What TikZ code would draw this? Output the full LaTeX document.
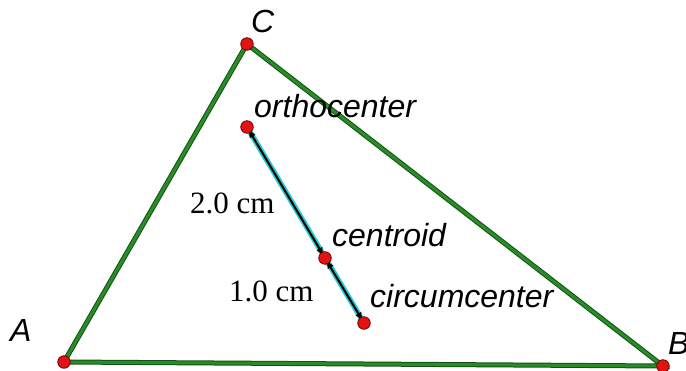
\documentclass[tikz,border=0pt]{standalone}
\usepackage{fontspec}
\setmainfont{Liberation Sans}
\newfontfamily\serifa{Liberation Serif}
\usetikzlibrary{arrows.meta}
\definecolor{edgegreen}{RGB}{40,140,40}
\definecolor{darkgreen}{RGB}{20,80,20}
\definecolor{ptred}{RGB}{225,20,20}
\definecolor{ptdark}{RGB}{120,0,0}
\definecolor{segcyan}{RGB}{40,200,210}
\tikzset{
  lab/.style={anchor=base west, inner sep=0pt, font=\fontsize{32}{38}\selectfont\itshape},
  dimlab/.style={anchor=base west, inner sep=0pt, font=\fontsize{31}{37}\selectfont\serifa},
  pt/.style={circle, fill=ptred, draw=ptdark, line width=0.8pt, minimum size=12.5pt, inner sep=0pt},
  sideout/.style={draw=darkgreen, line width=5pt, line cap=round},
  sidein/.style={draw=edgegreen, line width=3pt, line cap=round},
  segout/.style={draw=segcyan, line width=5.5pt},
  segin/.style={draw=black, line width=2pt, {Latex[length=9pt,width=7pt]}-{Latex[length=9pt,width=7pt]}, shorten <=2pt, shorten >=2pt}
}
\begin{document}
\begin{tikzpicture}[x=1pt,y=-1pt]
\useasboundingbox[fill=white] (0,0) rectangle (686,371);
\coordinate (A) at (64,362);
\coordinate (B) at (663,366);
\coordinate (C) at (247,44);
\coordinate (O) at (247,127);
\coordinate (G) at (325,258);
\coordinate (H) at (364,323);
% sides
\draw[sideout] (A) -- (B) -- (C) -- cycle;
\draw[sidein] (A) -- (B) -- (C) -- cycle;
% Euler segment
\draw[segout] (O) -- (H);
\draw[segin] (O) -- (G);
\draw[segin] (G) -- (H);
% points
\node[pt] (pA) at (A) {};
\node[pt] (pB) at (B) {};
\node[pt] (pC) at (C) {};
\node[pt] (pO) at (O) {};
\node[pt] (pG) at (G) {};
\node[pt] (pH) at (H) {};
% labels
\node[lab] (lC) at (251,33) {C};
\node[lab] (lA) at (10,342) {A};
\node[lab] (lB) at (668,355) {B};
\node[lab] (lO) at (254,118) {orthocenter};
\node[lab] (lG) at (332,247) {centroid};
\node[lab] (lH) at (370,308) {circumcenter};
\node[dimlab] (d1) at (190,214) {2.0 cm};
\node[dimlab] (d2) at (229,302) {1.0 cm};
\end{tikzpicture}
\end{document}
